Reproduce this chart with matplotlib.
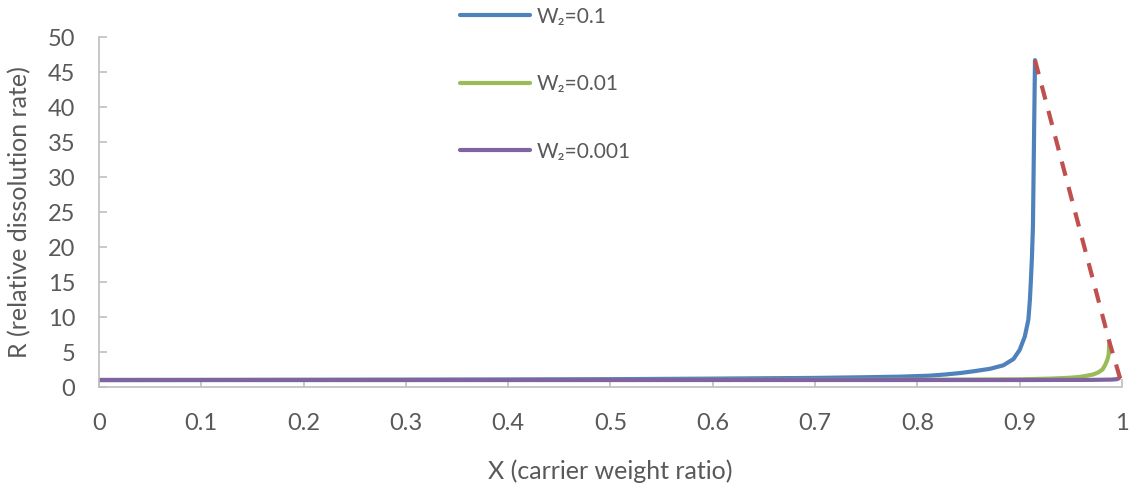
import matplotlib.pyplot as plt
import numpy as np

# values
x_w01 = [0.0, 0.1, 0.2, 0.3, 0.4, 0.5, 0.6, 0.7, 0.75, 0.783, 0.812, 0.828, 0.842, 0.855,
         0.871, 0.884, 0.894, 0.900, 0.905, 0.9085, 0.910, 0.911, 0.912, 0.913, 0.914, 0.915]
r_w01 = [1.0, 1.01, 1.03, 1.05, 1.08, 1.12, 1.2, 1.3, 1.4, 1.48, 1.62, 1.8, 2.0, 2.25,
         2.6, 3.1, 4.0, 5.3, 7.2, 9.6, 12.4, 15.3, 18.5, 23.0, 35.0, 46.7]

x_w001 = [0.0, 0.5, 0.8, 0.9, 0.93, 0.95, 0.959, 0.965, 0.972, 0.977, 0.981, 0.9834,
          0.9855, 0.987, 0.9877]
r_w001 = [1.0, 1.01, 1.04, 1.1, 1.2, 1.33, 1.45, 1.6, 1.8, 2.1, 2.5, 3.1,
          3.8, 4.6, 6.3]

x_w0001 = [0.0, 0.9, 0.97, 0.99, 0.995, 0.997]
r_w0001 = [1.0, 1.0, 1.02, 1.06, 1.12, 1.25]

# dashed envelope through the peaks
x_env = [0.915, 0.988, 0.9997]
r_env = [46.7, 6.3, 0.5]

labels = ['W\u2082=0.1', 'W\u2082=0.01', 'W\u2082=0.001']
colors = ['#4f81bd', '#9bbb59', '#8064a2']

plt.rcParams['font.family'] = ['Lato', 'DejaVu Sans']
txt = '#595959'

fig = plt.figure(figsize=(11.31, 4.87), dpi=100)
ax = fig.add_axes([0.0875, 0.2053, 0.9045, 0.7187])

lines = []
for xs, rs, c, lab in zip([x_w01, x_w001, x_w0001], [r_w01, r_w001, r_w0001], colors, labels):
    ln, = ax.plot(xs, rs, color=c, lw=3, label=lab, solid_capstyle='round',
                  solid_joinstyle='round')
    lines.append(ln)
ax.plot(x_env, r_env, color='#c0504d', lw=3, ls=(0, (3.5, 2.8)))

ax.set_xlim(0, 1)
ax.set_ylim(0, 50)
ax.set_xticks(np.arange(0, 1.01, 0.1))
ax.set_xticklabels(['0', '0.1', '0.2', '0.3', '0.4', '0.5', '0.6', '0.7', '0.8', '0.9', '1'])
ax.set_yticks(range(0, 51, 5))

for s in ['top', 'right']:
    ax.spines[s].set_visible(False)
for s in ['left', 'bottom']:
    ax.spines[s].set_color('#bfbfbf')
    ax.spines[s].set_linewidth(1.2)
ax.tick_params(axis='both', direction='in', length=6, width=1.2, color='#bfbfbf',
               labelsize=17, labelcolor=txt)
ax.tick_params(axis='x', pad=19)
ax.tick_params(axis='y', pad=17)

ax.set_xlabel('X (carrier weight ratio)', fontsize=18, color=txt, labelpad=18)
ax.set_ylabel('R (relative dissolution rate)', fontsize=18, color=txt, labelpad=12)

fig.legend(handles=lines, loc='upper left', bbox_to_anchor=(0.39, 1.025),
           frameon=False, fontsize=15, labelcolor=txt, handlelength=3.37,
           handletextpad=0.34, labelspacing=2.28)

fig.savefig('out.png', dpi=100)
